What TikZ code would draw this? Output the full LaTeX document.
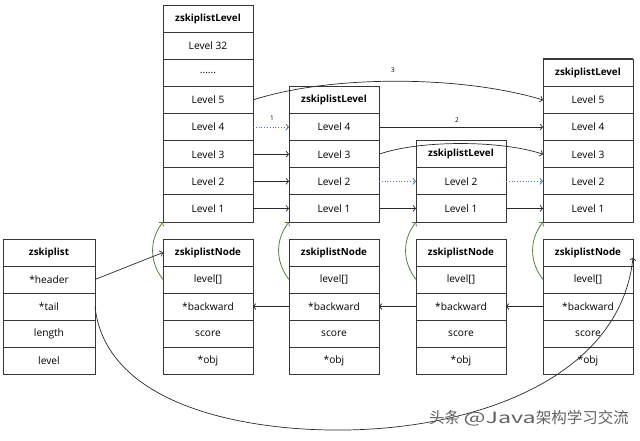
\documentclass[tikz,border=0pt]{standalone}
\usepackage{fontspec}
\setmainfont{Open Sans}
\newfontfamily\cjkfont{Noto Sans CJK SC}
\usetikzlibrary{arrows.meta}
\definecolor{boxc}{RGB}{55,55,55}
\definecolor{linec}{RGB}{40,40,40}
\definecolor{dotblue}{RGB}{68,114,196}
\definecolor{grn}{RGB}{84,130,53}
\begin{document}
\begin{tikzpicture}[x=1pt,y=-1pt,
  cell/.style={draw=boxc, line width=0.9pt, fill=white, minimum width=90pt, minimum height=27.125pt,
    inner sep=0pt, outer sep=0pt, anchor=north west, font=\fontsize{10.2}{12}\selectfont},
  hcell/.style={cell, font=\fontsize{9.8}{12}\selectfont\bfseries},
  ncell/.style={cell, minimum height=27pt},
  nhcell/.style={hcell, minimum height=27pt},
  tip/.style={-{Straight Barb[length=2.5pt,width=6pt]}},
  conn/.style={draw=linec, line width=0.7pt, tip},
  dconn/.style={draw=dotblue, line width=0.8pt, dotted, tip},
  gconn/.style={draw=grn, line width=0.8pt, tip},
  lab/.style={font=\fontsize{6.5}{7}\selectfont, inner sep=0pt}
]
\useasboundingbox (0,0) rectangle (640,440);

% zskiplist
\node[nhcell, minimum width=92pt] (zh) at (3,239) {zskiplist};
\node[ncell, minimum width=92pt] (zhd) at (3,266) {*header};
\node[ncell, minimum width=92pt] (zt) at (3,293) {*tail};
\node[ncell, minimum width=92pt] (zl) at (3,320) {length};
\node[ncell, minimum width=92pt] (zv) at (3,347) {level};

% column A levels
\node[hcell] (a0) at (163,5) {zskiplistLevel};
\node[cell] (a32) at (163,32.125) {Level 32};
\node[cell] (adots) at (163,59.25) {......};
\node[cell] (a5) at (163,86.375) {Level 5};
\node[cell] (a4) at (163,113.5) {Level 4};
\node[cell] (a3) at (163,140.625) {Level 3};
\node[cell] (a2) at (163,167.75) {Level 2};
\node[cell] (a1) at (163,194.875) {Level 1};

% column B levels
\node[hcell] (b0) at (289,86.375) {zskiplistLevel};
\node[cell] (b4) at (289,113.5) {Level 4};
\node[cell] (b3) at (289,140.625) {Level 3};
\node[cell] (b2) at (289,167.75) {Level 2};
\node[cell] (b1) at (289,194.875) {Level 1};

% column C levels
\node[hcell] (c0) at (416,140.625) {zskiplistLevel};
\node[cell] (c2) at (416,167.75) {Level 2};
\node[cell] (c1) at (416,194.875) {Level 1};
\draw[boxc, line width=1.6pt] (c0.north west) -- (c0.north east);

% column D levels
\node[hcell] (d0) at (543,59.25) {zskiplistLevel};
\node[cell] (d5) at (543,86.375) {Level 5};
\node[cell] (d4) at (543,113.5) {Level 4};
\node[cell] (d3) at (543,140.625) {Level 3};
\node[cell] (d2) at (543,167.75) {Level 2};
\node[cell] (d1) at (543,194.875) {Level 1};
\draw[boxc, line width=1.6pt] (d0.north west) -- (d0.north east);

% skiplist nodes
\foreach \c/\x in {a/163,b/289,c/416,d/543}{
  \node[nhcell] (\c h) at (\x,239) {zskiplistNode};
  \node[ncell] (\c l) at (\x,266) {level[]};
  \node[ncell] (\c b) at (\x,293) {*backward};
  \node[ncell] (\c s) at (\x,320) {score};
  \node[ncell] (\c o) at (\x,347) {*obj};
}

% level forward pointers
\draw[dconn] (a4.east) -- (b4.west);
\draw[conn] (a3.east) -- (b3.west);
\draw[conn] (a2.east) -- (b2.west);
\draw[conn] (a1.east) -- (b1.west);
\draw[conn] (a5.east) .. controls (330,75) and (460,75) .. (d5.west);
\draw[conn] (b4.east) -- (d4.west);
\draw[conn] (b3.east) .. controls (420,140) and (500,140) .. (d3.west);
\draw[dconn] (b2.east) -- (c2.west);
\draw[dconn] (c2.east) -- (d2.west);
\draw[conn] (b1.east) -- (c1.west);
\draw[conn] (c1.east) -- (d1.west);

\node[lab] (n1) at (272,118) {1};
\node[lab] (n2) at (457,120.5) {2};
\node[lab] (n3) at (393,70) {3};

% level[] to levels (green)
\foreach \c in {a,b,c,d}{
  \draw[gconn] (\c l.west) to[bend left=38] (\c 1.south west);
}

% backward pointers
\draw[conn] (bb.west) -- (ab.east);
\draw[conn] (cb.west) -- (bb.east);
\draw[conn] (db.west) -- (cb.east);

% zskiplist pointers
\draw[conn] (zhd.east) -- (ah.west);
\coordinate (tmid) at (330,430);
\coordinate (tend) at ([yshift=-5pt]dh.east);
\draw[conn] (zt.east) .. controls (105,400) and (230,428.6) .. (tmid)
  .. controls (470,432) and (620,380) .. (tend);

% watermark
\node[font=\cjkfont\fontsize{15.5}{17}\selectfont, text=black!62, inner sep=0pt, anchor=east] (wm)
  at (629,418) {头条 \scalebox{1.5}[1]{@Java}架构学习交流};
\end{tikzpicture}
\end{document}
